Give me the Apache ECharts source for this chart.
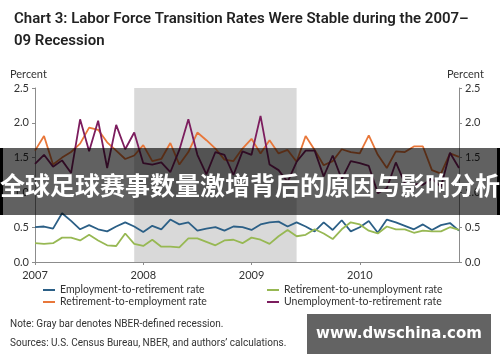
<!DOCTYPE html>
<html><head><meta charset="utf-8">
<script src="https://cdn.jsdelivr.net/npm/echarts@6/dist/echarts.min.js"></script>
<style>html,body{margin:0;padding:0;background:#fff}#c{width:500px;height:362px}</style>
</head><body><div id="c"></div>
<script>
const years = ['2007', '2008', '2009', '2010'];
const monthNums = ['01','02','03','04','05','06','07','08','09','10','11','12'];
const categories = [];
years.forEach(y => monthNums.forEach(m => categories.push(y + '-' + m)));
const yTicks = [0, 0.5, 1.0, 1.5, 2.0, 2.5];
const recession = ['2007-12', '2009-06'];

const empToRet = [0.50,0.51,0.48,0.70,0.59,0.47,0.53,0.47,0.44,0.51,0.57,0.51,
                  0.43,0.52,0.47,0.61,0.54,0.57,0.45,0.48,0.50,0.45,0.51,0.50,
                  0.46,0.54,0.57,0.58,0.51,0.57,0.51,0.44,0.57,0.46,0.60,0.44,
                  0.50,0.59,0.42,0.61,0.57,0.52,0.47,0.54,0.46,0.53,0.56,0.45];
const retToUnemp = [0.27,0.26,0.27,0.35,0.35,0.31,0.39,0.31,0.24,0.23,0.41,0.26,
                    0.23,0.32,0.22,0.22,0.21,0.34,0.34,0.29,0.24,0.31,0.32,0.27,
                    0.35,0.32,0.26,0.37,0.46,0.37,0.39,0.47,0.41,0.33,0.47,0.57,
                    0.54,0.45,0.41,0.51,0.47,0.47,0.42,0.45,0.44,0.44,0.50,0.46];
const retToEmp = [1.60,1.81,1.40,1.50,1.58,1.70,1.93,1.90,1.72,1.60,1.48,1.53,
                  1.68,1.45,1.48,1.71,1.40,1.58,1.86,1.75,1.63,1.47,1.45,1.63,
                  1.77,1.56,1.75,1.56,1.61,1.44,1.81,1.61,1.39,1.45,1.62,1.58,
                  1.56,1.82,1.54,1.35,1.59,1.58,1.66,1.66,1.32,1.27,1.56,1.51];
const unempToRet = [1.41,1.54,1.37,1.46,1.28,2.05,1.59,2.03,1.35,1.97,1.62,1.86,
                    1.42,1.40,1.43,1.29,1.61,2.05,1.54,1.26,1.58,1.54,1.25,1.59,
                    1.54,2.10,1.40,1.32,1.15,1.44,1.60,1.60,1.23,1.53,1.19,1.45,
                    1.42,1.38,0.99,1.06,1.43,1.13,1.12,1.11,1.20,1.08,1.57,1.35];

const names = ['Employment-to-retirement rate','Retirement-to-unemployment rate',
               'Retirement-to-employment rate','Unemployment-to-retirement rate'];
const colors = ['#2b5f86','#97b853','#e8773a','#7c1d5e'];

const chart = echarts.init(document.getElementById('c'), null, {renderer:'canvas'});
const axisGray = '#8c8c8c';
const yAxisBase = {
  type:'value', min:0, max:2.5, interval:0.5,
  axisLine:{show:true, lineStyle:{color:axisGray, width:1}},
  axisTick:{show:true, length:3, lineStyle:{color:axisGray}},
  splitLine:{show:false},
  axisLabel:{color:'#333', fontSize:11, fontFamily:'Lato', margin:6,
    formatter: v => v.toFixed(1)}
};
const isJan = (i) => i % 12 === 0;
function mkSeries(i, data, extra){
  return Object.assign({
    name:names[i], type:'line', data:data, showSymbol:false, symbol:'none',
    lineStyle:{color:colors[i], width:1.8}, itemStyle:{color:colors[i]},
    animation:false
  }, extra||{});
}
chart.setOption({
  animation:false,
  title:{text:'Chart 3: Labor Force Transition Rates Were Stable during the 2007–\n09 Recession',
    left:9, top:3,
    textStyle:{fontSize:15, fontWeight:600, lineHeight:22, color:'#222', fontFamily:'Roboto'}},
  grid:{left:35, right:41, top:88, bottom:100, containLabel:false},
  xAxis:{type:'category', data:categories, boundaryGap:false,
    axisLine:{lineStyle:{color:axisGray}},
    axisTick:{show:true, interval:isJan, length:3, lineStyle:{color:axisGray}},
    axisLabel:{interval:isJan, formatter:v => v.slice(0,4), color:'#333', fontSize:11, fontFamily:'Lato', margin:8},
    splitLine:{show:false}},
  yAxis:[Object.assign({position:'left'}, yAxisBase), Object.assign({position:'right'}, yAxisBase)],
  legend:[
    {data:[names[0], names[2]], orient:'vertical', left:38, top:279, itemGap:0,
     itemWidth:12, itemHeight:2, icon:'rect',
     textStyle:{fontSize:10.5, color:'#333', fontFamily:'Lato', lineHeight:12}},
    {data:[names[1], names[3]], orient:'vertical', left:262, top:279, itemGap:0,
     itemWidth:12, itemHeight:2, icon:'rect',
     textStyle:{fontSize:10.5, color:'#333', fontFamily:'Lato', lineHeight:12}}
  ],
  series:[
    mkSeries(0, empToRet, {markArea:{silent:true, itemStyle:{color:'#d9d9d9'},
      data:[[{xAxis:recession[0]},{xAxis:recession[1]}]]}}),
    mkSeries(1, retToUnemp),
    mkSeries(2, retToEmp),
    mkSeries(3, unempToRet)
  ],
  graphic:[
    {type:'text', left:10, top:69, z:50, style:{text:'Percent', fontSize:11, fill:'#333', fontFamily:'Lato'}},
    {type:'text', left:447, top:69, z:50, style:{text:'Percent', fontSize:11, fill:'#333', fontFamily:'Lato'}},
    {type:'text', left:10, top:319, z:50, style:{text:'Note: Gray bar denotes NBER-defined recession.', fontSize:10, fill:'#333', fontFamily:'Roboto'}},
    {type:'text', left:10, top:338, z:50, style:{text:"Sources: U.S. Census Bureau, NBER, and authors’ calculations.", fontSize:10, fill:'#333', fontFamily:'Roboto'}},
    {type:'rect', shape:{x:0, y:148, width:500, height:67}, z:200, style:{fill:'rgba(0,0,0,0.62)'}},
    {type:'rect', shape:{x:0, y:148, width:3, height:67}, z:201, style:{fill:'#000'}},
    {type:'rect', shape:{x:497, y:148, width:3, height:67}, z:201, style:{fill:'#000'}},
    {type:'text', x:250, y:185, z:202, style:{text:'全球足球赛事数量激增背后的原因与影响分析', fontSize:25, fontWeight:'bold',
      fill:'#fff', fontFamily:'Noto Sans CJK SC', align:'center', verticalAlign:'middle'}},
    {type:'rect', shape:{x:307, y:314, width:184, height:40}, z:200, style:{fill:'#636363'}},
    {type:'text', x:399, y:334, z:202, style:{text:'www.dwschina.com', fontSize:15, fontWeight:'bold',
      fill:'#fff', fontFamily:'DejaVu Sans', align:'center', verticalAlign:'middle'}}
  ]
});
</script></body></html>
